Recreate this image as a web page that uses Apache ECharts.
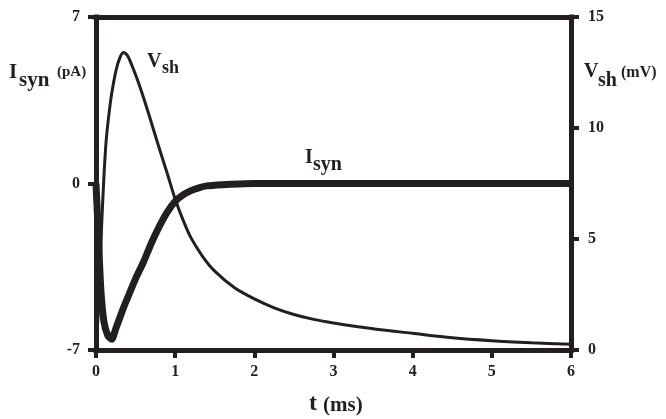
<!DOCTYPE html>
<html>
<head>
<meta charset="utf-8">
<script src="https://cdn.jsdelivr.net/npm/echarts@6/dist/echarts.min.js"></script>
<style>
  html, body { margin: 0; padding: 0; background: #fff; }
  #chart { width: 666px; height: 419px; }
</style>
</head>
<body>
<div id="chart"></div>
<script>
  // time points (ms) and traces
  var tIsyn = [0, 0.03, 0.06, 0.1, 0.15, 0.2, 0.25, 0.3, 0.35, 0.4, 0.5, 0.6, 0.7, 0.8, 0.9, 1.0, 1.1, 1.2, 1.3, 1.4, 1.6, 1.8, 2.0, 2.5, 3, 4, 5, 6]
  var isyn = [0, -2.2, -4.4, -5.8, -6.4, -6.55, -6.1, -5.65, -5.2, -4.8, -4.0, -3.3, -2.5, -1.8, -1.2, -0.75, -0.48, -0.3, -0.18, -0.1, -0.05, -0.02, 0, 0, 0, 0, 0, 0]

  var tVsh = [0, 0.04, 0.07, 0.1, 0.13, 0.18, 0.22, 0.26, 0.3, 0.345, 0.4, 0.45, 0.5, 0.56, 0.66, 0.78, 0.9, 1.0, 1.1, 1.2, 1.35, 1.5, 1.75, 2.0, 2.25, 2.5, 2.75, 3.0, 3.5, 4.0, 4.5, 5.0, 5.5, 6.0]
  var vsh = [0, 2.5, 5.5, 7.8, 9.5, 11.1, 12.0, 12.7, 13.15, 13.4, 13.25, 12.85, 12.4, 11.8, 10.7, 9.3, 7.95, 6.8, 5.85, 5.05, 4.2, 3.55, 2.8, 2.3, 1.9, 1.6, 1.38, 1.22, 0.96, 0.75, 0.55, 0.42, 0.33, 0.26]

  var ink = '#231f20'
  var serif = '"Liberation Serif", "Times New Roman", serif'

  function pairs (xs, ys) {
    return xs.map(function (x, i) { return [x, ys[i]] })
  }

  var chart = echarts.init(document.getElementById('chart'))

  var axisLine = { show: true, onZero: false, lineStyle: { color: ink, width: 5, cap: 'square' } }
  var axisTick = { show: true, length: 8, lineStyle: { color: ink, width: 4 } }
  var axisLabel = { color: ink, fontFamily: serif, fontWeight: 'bold', fontSize: 16 }

  chart.setOption({
    animation: false,
    grid: { left: 96, right: 95, top: 17, bottom: 69 },
    xAxis: [{
      type: 'value',
      min: 0,
      max: 6,
      interval: 1,
      axisLine: axisLine,
      axisTick: axisTick,
      axisLabel: Object.assign({ margin: 14 }, axisLabel),
      splitLine: { show: false }
    }, {
      type: 'value',
      position: 'top',
      min: 0,
      max: 6,
      axisLine: axisLine,
      axisTick: { show: false },
      axisLabel: { show: false },
      splitLine: { show: false }
    }],
    yAxis: [{
      type: 'value',
      min: -7,
      max: 7,
      interval: 7,
      axisLine: axisLine,
      axisTick: axisTick,
      axisLabel: Object.assign({ margin: 16 }, axisLabel),
      splitLine: { show: false }
    }, {
      type: 'value',
      position: 'right',
      min: 0,
      max: 15,
      interval: 5,
      axisLine: axisLine,
      axisTick: axisTick,
      axisLabel: Object.assign({ margin: 17 }, axisLabel),
      splitLine: { show: false }
    }],
    series: [{
      name: 'Vsh',
      type: 'line',
      yAxisIndex: 1,
      data: pairs(tVsh, vsh),
      smooth: 0.3,
      showSymbol: false,
      lineStyle: { color: ink, width: 3 }
    }, {
      name: 'Isyn',
      type: 'line',
      yAxisIndex: 0,
      data: pairs(tIsyn, isyn),
      smooth: 0.2,
      showSymbol: false,
      lineStyle: { color: ink, width: 7 }
    }],
    graphic: [
      // left axis name
      { type: 'text', left: 9, top: 62, style: { text: 'I', font: 'bold 21px ' + serif, fill: ink } },
      { type: 'text', left: 19, top: 70, style: { text: 'syn', font: 'bold 21px ' + serif, fill: ink } },
      { type: 'text', left: 57, top: 65, style: { text: '(pA)', font: 'bold 15px ' + serif, fill: ink } },
      // right axis name
      { type: 'text', left: 584, top: 62, style: { text: 'V', font: 'bold 20px ' + serif, fill: ink } },
      { type: 'text', left: 598, top: 71, style: { text: 'sh', font: 'bold 20px ' + serif, fill: ink } },
      { type: 'text', left: 621, top: 65, style: { text: '(mV)', font: 'bold 16px ' + serif, fill: ink } },
      // curve labels
      { type: 'text', left: 147, top: 52, style: { text: 'V', font: 'bold 20px ' + serif, fill: ink } },
      { type: 'text', left: 162, top: 59, style: { text: 'sh', font: 'bold 18px ' + serif, fill: ink } },
      { type: 'text', left: 305, top: 148, style: { text: 'I', font: 'bold 20px ' + serif, fill: ink } },
      { type: 'text', left: 313, top: 155, style: { text: 'syn', font: 'bold 20px ' + serif, fill: ink } },
      // x axis name
      { type: 'text', left: 309, top: 392, style: { text: 't', font: 'bold 24px ' + serif, fill: ink } },
      { type: 'text', left: 323, top: 395, style: { text: '(ms)', font: 'bold 21px ' + serif, fill: ink } }
    ]
  })
</script>
</body>
</html>
